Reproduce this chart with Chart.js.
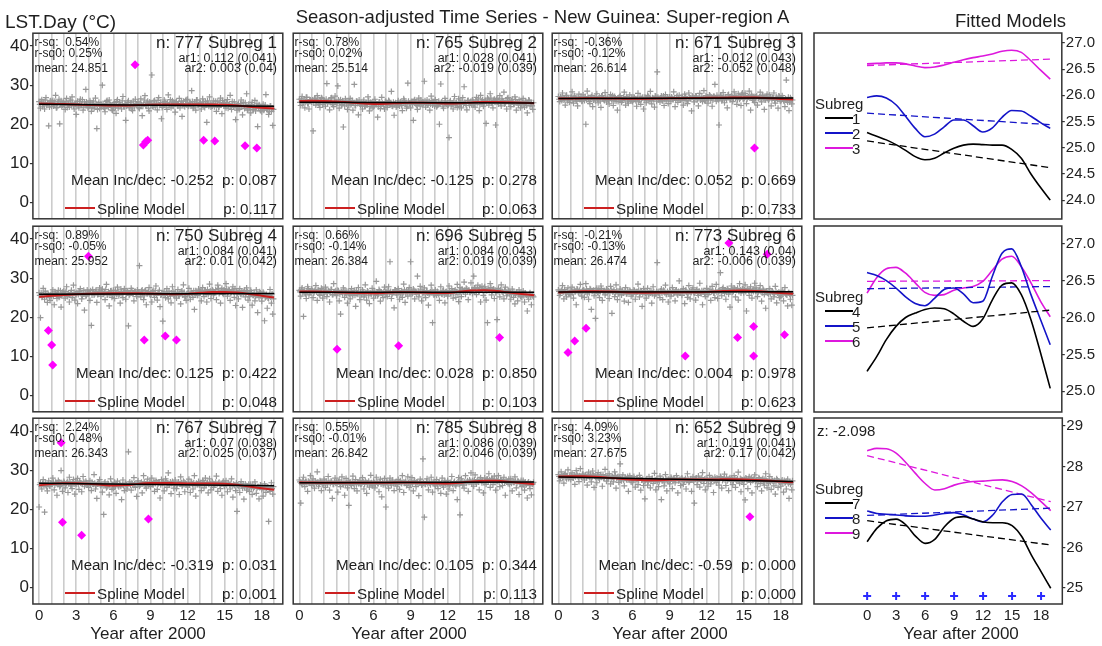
<!DOCTYPE html>
<html>
<head>
<meta charset="utf-8">
<script src="https://cdn.jsdelivr.net/npm/chart.js@4.4.1/dist/chart.umd.min.js"></script>
<style>
  html, body { margin: 0; padding: 0; background: #fff; }
  body { position: relative; width: 1102px; height: 646px; overflow: hidden;
         font-family: "Liberation Sans", Arial, Helvetica, sans-serif; color: #1e1e1e; }
  canvas { position: absolute; }
  .t { position: absolute; white-space: pre; line-height: 1; }
  .key { position: absolute; height: 2px; }
</style>
</head>
<body>
<script>
// ---------------------------------------------------------------
// Season-adjusted LST.Day series, 9 sub-regions, 2000-2019
// ---------------------------------------------------------------

// Observations: 9 samples per year on the main grid (years 0..18),
// plus a second set taken half a step later.
const SAMPLES_PER_YEAR = 9;

const lst1 = [
  25.8,24.1,26.3,25.0,23.9,26.8,25.4,19.6,25.9, 24.6,26.1,25.2,27.4,24.3,25.7,20.1,26.0,24.9,
  25.5,23.8,26.6,25.1,24.4,26.2,27.0,24.7,25.3, 22.5,25.9,24.2,26.4,25.0,23.6,25.7,28.9,24.8,
  24.5,26.0,23.3,25.4,24.1,26.7,18.9,25.2,24.0, 25.1,30.0,24.4,23.2,25.8,24.6,26.2,24.9,23.7,
  24.2,25.6,22.8,26.3,24.7,25.0,23.9,27.1,24.5, 21.0,24.9,26.0,24.3,25.5,23.5,24.8,26.4,25.2,
  25.7,24.0,26.5,22.2,25.1,27.3,24.6,25.9,23.4, 25.3,32.6,24.4,26.1,25.0,23.7,26.8,24.9,21.4,
  24.6,26.2,25.4,23.8,27.5,25.1,24.2,26.0,25.6, 23.1,25.8,24.7,26.6,25.2,22.0,25.9,24.5,26.3,
  26.4,24.8,25.5,28.6,24.1,25.7,23.6,26.2,25.0, 25.2,23.9,26.5,24.6,25.8,20.5,25.3,27.0,24.4,
  24.7,26.0,25.1,23.3,25.9,24.5,26.7,22.7,25.4, 25.6,24.2,26.3,25.0,27.4,23.8,24.9,25.7,21.2,
  23.6,25.3,24.1,26.2,22.4,24.8,25.5,27.8,23.9, 24.4,22.9,25.6,23.8,26.1,24.3,19.4,25.0,23.5,
  23.2,25.1,24.0,27.6,23.7,22.5,24.6,23.3,19.7
];
const lst1b = [
  25.1,25.9,24.6,25.5,26.2,24.9,25.3,24.4,26.0, 25.6,24.7,25.9,24.2,25.4,26.4,25.0,24.5,25.8,
  24.9,25.7,24.3,25.2,26.0,24.8,25.5,23.9,25.1, 25.3,24.6,25.8,24.9,26.3,24.4,25.1,25.7,24.2,
  24.8,25.5,24.2,25.9,24.6,25.2,23.8,25.6,24.9, 24.5,25.3,24.0,25.0,26.1,24.3,25.4,24.7,23.5,
  25.2,24.4,25.8,24.1,25.5,24.8,26.0,24.6,25.3, 24.7,25.6,24.2,25.1,23.9,25.9,24.5,25.2,24.9,
  24.3,25.4,25.0,24.6,26.2,24.8,25.5,24.1,25.7, 25.4,24.7,25.9,24.5,25.2,26.1,24.8,25.6,24.3,
  25.0,25.8,24.4,25.5,24.9,26.3,25.1,24.6,25.4, 25.6,24.8,25.3,24.2,25.9,25.1,24.7,26.0,24.9,
  24.6,25.5,25.0,25.8,24.4,25.3,26.2,24.8,25.4, 25.5,24.9,25.7,24.3,25.1,26.0,24.6,25.4,24.8,
  25.2,24.5,25.9,25.0,24.3,25.6,24.9,26.1,24.7, 24.8,25.5,24.1,25.2,24.6,25.8,24.4,25.0,24.2,
  24.9,23.8,25.3,24.5,25.6,24.0,24.8,23.6,25.1, 24.2,25.0,23.7,24.6,23.4,25.2,24.1,24.8,23.9,
  24.5,23.6,24.9,23.9,24.3,23.2,24.7,24.0,23.8
];
const lst2 = [
  26.4,24.8,27.1,25.6,24.2,26.9,25.3,23.9,26.2, 25.7,18.3,26.5,24.9,27.3,25.4,24.3,26.8,25.0,
  26.1,24.6,30.4,25.8,23.7,26.7,25.2,24.5,27.2, 25.5,29.8,24.1,26.3,25.0,19.3,24.7,26.0,23.8,
  24.9,26.6,25.3,23.6,30.2,24.8,25.9,22.4,25.2, 25.3,23.9,26.2,24.6,25.0,27.0,23.4,25.6,24.2,
  24.5,26.4,25.1,21.8,25.7,24.0,26.9,25.2,23.9, 25.8,24.3,26.1,25.0,28.4,24.6,22.3,25.5,24.8,
  26.0,24.7,25.6,23.5,26.5,25.2,24.1,30.5,25.4, 24.2,25.9,21.0,26.3,25.1,23.8,26.7,24.6,25.5,
  25.7,31.0,24.4,26.2,25.3,23.6,27.2,24.9,25.8, 26.3,24.5,25.0,20.0,30.3,25.6,24.1,26.6,25.2,
  24.8,16.6,26.0,25.1,23.9,27.1,25.4,24.3,26.5, 25.6,24.2,26.8,29.6,25.3,23.7,26.1,24.8,25.9,
  26.2,25.0,24.4,26.9,25.7,23.5,27.4,25.3,24.6, 25.8,20.2,26.7,24.9,27.8,25.5,24.2,26.4,19.8,
  26.6,25.2,27.3,24.7,26.0,28.2,25.4,23.9,26.8, 25.9,24.5,26.4,25.1,27.0,23.6,25.7,26.3,24.2,
  25.0,26.6,24.4,25.8,22.9,26.2,24.7,25.5,23.8
];
const lst2b = [
  25.6,26.5,25.2,26.1,25.8,26.9,25.4,26.3,25.9, 26.2,25.5,26.7,25.8,26.4,25.1,26.0,26.6,25.7,
  25.9,26.4,25.3,26.1,25.6,26.8,25.0,26.2,25.7, 25.4,26.2,25.8,24.9,26.0,25.5,26.5,25.2,25.9,
  25.7,25.0,26.1,25.4,24.8,25.9,25.3,26.2,24.9, 25.2,25.8,24.7,25.5,25.0,26.0,24.5,25.3,25.7,
  24.8,25.6,25.1,24.5,25.7,24.9,25.4,24.6,25.8, 25.4,24.9,25.8,25.1,24.7,25.6,25.2,24.4,25.5,
  25.0,25.7,24.8,25.4,26.1,25.2,24.6,25.9,25.3, 25.6,25.1,26.0,25.3,24.8,25.9,25.5,26.2,25.0,
  25.3,26.0,25.5,24.9,25.8,25.2,26.1,25.6,24.7, 25.5,24.8,25.9,25.2,25.6,24.6,25.4,26.0,25.1,
  25.0,25.6,24.7,25.3,25.9,24.9,25.5,25.2,24.5, 25.4,25.9,25.1,25.6,24.8,26.0,25.3,25.7,25.0,
  25.8,25.3,26.2,25.5,26.5,25.0,25.9,26.3,25.4, 26.0,25.5,26.4,25.8,26.7,25.3,26.1,25.6,26.3,
  25.7,26.2,25.4,26.5,25.9,25.2,26.0,26.6,25.5, 25.4,26.0,25.7,25.1,26.3,25.6,24.9,25.8,25.3,
  25.6,25.0,25.9,24.8,25.4,26.1,25.2,24.7,25.5
];
const lst3 = [
  27.1,25.8,26.9,28.0,26.2,24.9,27.4,26.5,25.6, 26.8,28.3,25.4,27.2,26.0,24.7,27.7,26.4,25.9,
  27.5,26.1,20.0,28.5,26.7,25.3,27.0,24.5,26.3, 26.0,27.8,25.5,26.9,24.3,27.3,26.4,28.1,25.7,
  26.6,25.2,27.6,26.1,24.8,27.1,25.9,23.6,26.8, 27.3,25.6,26.2,28.2,24.9,26.7,25.4,27.5,26.0,
  25.8,27.0,26.4,24.6,27.9,26.2,25.1,26.8,23.9, 26.9,25.5,27.4,26.0,28.4,25.2,26.6,24.4,27.1,
  33.4,26.3,25.7,27.2,26.0,24.8,27.6,26.5,25.3, 27.0,25.9,26.6,28.3,24.5,26.9,25.6,27.4,26.2,
  26.4,24.9,27.7,26.1,25.3,28.0,26.7,23.4,26.9, 25.7,27.2,26.3,24.7,27.9,26.5,25.8,28.6,26.0,
  26.8,25.4,27.5,26.2,24.6,27.1,30.2,25.9,26.6, 19.8,27.4,26.0,28.1,25.5,26.9,24.2,27.6,26.3,
  27.2,25.8,28.3,26.7,25.1,27.8,26.4,24.8,28.0, 26.5,27.9,25.3,26.9,28.5,23.6,27.3,26.1,25.6,
  27.0,24.9,26.6,28.2,25.7,27.4,23.8,26.3,27.7, 26.2,27.5,24.7,26.8,28.0,25.4,26.9,24.1,27.1,
  25.9,27.3,26.1,24.5,31.3,25.6,23.5,26.8,25.2
];
const lst3b = [
  26.4,27.0,26.1,26.8,26.5,27.3,26.0,26.7,26.3, 26.9,26.2,27.2,26.6,25.9,26.8,26.4,27.1,26.0,
  26.5,27.1,26.3,26.9,25.8,26.6,27.4,26.2,26.8, 27.0,26.4,26.7,25.9,27.2,26.5,26.1,26.9,26.6,
  26.2,26.9,26.5,27.3,26.0,26.7,26.4,25.8,27.0, 26.7,26.1,26.9,26.4,27.1,25.9,26.6,26.3,26.8,
  26.3,26.8,26.0,26.6,25.7,27.0,26.4,26.9,26.2, 26.6,26.2,27.1,26.5,26.0,26.8,26.3,27.2,25.9,
  26.9,26.4,26.7,26.1,27.2,26.5,26.0,26.8,26.6, 26.5,27.0,26.3,26.8,26.1,27.3,26.6,26.2,26.9,
  26.8,26.3,27.1,26.6,26.0,26.9,26.5,27.2,26.4, 26.6,27.2,26.4,26.9,26.2,27.0,26.7,26.1,27.3,
  27.0,26.5,27.3,26.8,26.2,27.1,26.6,27.4,26.3, 26.7,27.2,26.4,27.0,26.8,26.3,27.5,26.9,26.5,
  27.1,26.6,27.4,26.9,26.3,27.2,26.8,27.6,26.5, 26.8,27.3,26.5,27.0,26.7,27.5,26.4,27.1,26.9,
  27.2,26.7,27.0,26.4,27.4,26.8,26.2,27.1,26.6, 26.5,27.0,26.3,26.8,26.1,26.9,26.4,27.2,26.0,
  26.3,26.8,25.9,26.5,26.1,26.9,25.7,26.4,26.2
];
const lst4 = [
  26.3,19.9,25.1,27.4,24.6,26.0,23.8,25.7,24.3, 25.5,27.0,23.2,26.1,24.8,26.9,25.3,22.6,26.4,
  26.7,24.9,27.8,25.6,23.9,26.3,25.0,28.2,24.4, 25.8,23.5,26.5,27.3,24.7,26.0,21.8,25.4,27.0,
  26.2,24.3,17.9,27.1,25.7,26.6,23.8,25.9,27.5, 25.4,27.2,26.0,24.5,28.4,25.8,22.9,26.7,25.1,
  26.9,24.8,26.2,27.7,25.5,23.6,26.5,25.0,27.3, 24.6,26.8,17.8,25.9,27.4,26.1,24.2,26.6,25.3,
  26.4,33.2,25.2,27.0,24.5,26.8,23.2,26.1,27.6, 25.7,23.9,26.9,25.1,28.0,24.4,26.3,22.7,25.8,
  19.0,26.5,25.0,27.3,24.7,26.0,23.7,27.8,25.6, 26.2,24.9,27.1,25.5,23.4,26.7,28.3,25.2,24.3,
  25.9,27.4,24.6,26.3,25.1,22.0,26.8,25.6,27.2, 26.5,24.2,27.6,25.3,26.9,23.9,25.8,28.5,24.8,
  27.0,25.7,26.4,24.5,28.2,26.1,23.6,27.4,25.9, 26.7,28.6,25.4,27.1,24.3,26.5,27.8,25.1,23.0,
  26.0,24.7,27.3,25.8,22.5,26.6,25.2,27.5,24.4, 25.3,26.9,23.1,25.6,24.2,27.0,21.2,25.0,26.2,
  24.1,26.4,19.1,25.2,22.3,24.8,27.1,23.6,20.8
];
const lst4b = [
  25.6,26.3,25.2,25.9,26.7,25.4,26.1,25.0,25.8, 26.0,25.4,26.5,25.7,26.2,25.1,26.8,25.5,26.3,
  25.9,26.6,25.3,26.2,25.7,26.9,25.5,26.4,26.0, 26.3,25.8,26.7,26.1,25.5,26.9,26.2,25.6,26.5,
  26.1,26.8,25.7,26.4,26.0,27.0,25.8,26.5,26.2, 26.6,25.9,26.3,27.1,25.7,26.5,26.0,26.8,25.6,
  26.2,26.9,25.8,26.5,26.1,27.2,25.9,26.4,26.7, 26.0,26.6,25.6,26.3,26.9,25.9,26.5,26.1,27.0,
  26.4,25.8,26.7,26.2,25.5,26.9,26.1,26.6,25.9, 25.9,26.5,26.0,26.8,25.6,26.3,26.9,25.7,26.2,
  26.1,25.6,26.4,25.9,26.7,25.4,26.2,26.6,25.8, 25.8,26.3,25.5,26.1,26.6,25.7,26.4,25.3,26.0,
  26.2,25.7,26.5,26.0,26.8,25.9,26.3,25.6,26.6, 26.5,26.9,26.2,26.7,26.0,27.1,26.4,26.8,26.3,
  26.8,26.3,27.1,26.6,27.3,26.4,26.9,26.2,27.0, 26.7,27.2,26.4,26.9,26.1,27.0,26.5,27.3,26.6,
  26.3,26.8,26.0,26.6,25.9,26.9,26.2,26.5,25.8, 25.9,26.4,25.6,26.2,25.3,26.0,25.7,26.5,25.4,
  25.5,26.1,25.0,25.8,24.9,25.6,25.2,26.0,24.7
];
const lst5 = [
  26.9,25.4,27.5,20.2,26.1,24.8,27.8,25.7,26.4, 27.2,25.0,26.6,28.1,24.3,26.9,25.6,27.4,24.9,
  26.0,27.7,25.3,26.8,23.9,27.1,25.8,28.6,26.3, 25.5,26.9,24.2,20.8,26.4,27.5,25.1,26.7,23.6,
  26.2,24.7,27.3,25.6,26.9,22.8,25.9,27.6,24.5, 25.8,27.0,25.2,28.3,24.4,26.5,23.5,26.1,27.4,
  24.9,26.6,29.2,25.5,27.1,24.1,26.3,25.0,27.7, 26.5,25.3,27.8,34.2,24.8,26.2,22.4,27.0,25.7,
  27.3,24.6,26.0,25.1,28.5,23.8,26.7,25.4,27.6, 34.2,25.9,27.2,24.7,26.5,30.5,25.2,27.9,24.2,
  26.3,27.5,25.0,26.8,23.1,26.1,28.2,18.6,25.7, 27.0,25.6,26.4,24.3,27.8,25.9,26.9,23.7,26.6,
  25.4,28.0,26.2,27.3,24.9,26.7,25.1,28.4,24.0, 27.6,25.3,26.8,29.0,25.9,27.2,24.5,26.4,28.8,
  26.1,30.5,27.5,25.8,28.2,26.6,23.9,27.9,25.6, 27.8,24.4,18.6,26.9,28.6,25.7,27.1,24.8,26.3,
  19.4,27.4,25.2,28.3,26.5,24.7,27.7,25.5,26.9, 26.0,24.6,27.2,25.1,23.4,26.4,24.2,27.0,25.3,
  25.2,26.7,23.9,25.8,21.6,24.6,26.3,23.2,25.5
];
const lst5b = [
  26.5,27.1,26.3,26.9,26.0,26.7,27.3,26.4,26.8, 26.8,26.2,27.0,26.5,26.9,25.9,26.6,27.2,26.3,
  26.4,26.9,26.1,26.7,26.3,27.1,25.8,26.5,26.8, 26.2,26.7,25.9,26.5,26.0,26.9,26.3,25.7,26.6,
  26.0,26.6,25.8,26.3,25.6,26.8,26.1,25.9,26.4, 25.9,26.5,25.7,26.2,26.7,25.5,26.3,26.0,26.6,
  26.1,25.6,26.4,25.9,26.8,26.2,25.8,26.5,26.0, 26.3,26.9,26.0,26.6,25.9,26.4,27.0,26.2,26.7,
  26.5,26.1,26.8,26.3,27.0,26.0,26.6,26.9,26.2, 26.6,26.2,26.9,26.4,25.9,26.7,26.1,27.0,26.3,
  26.4,26.0,26.7,26.2,25.8,26.5,26.9,26.1,25.9, 26.1,26.6,25.8,26.3,26.0,26.8,25.7,26.4,26.2,
  26.3,26.8,26.0,26.6,26.2,27.0,26.5,25.9,26.7, 26.7,27.2,26.5,26.9,27.4,26.6,27.0,26.4,27.1,
  27.0,27.5,26.8,27.3,26.7,27.6,27.1,26.9,27.4, 27.1,26.8,27.4,26.9,27.6,26.7,27.2,27.0,26.6,
  26.8,26.4,27.0,26.6,26.2,26.9,26.5,26.1,26.7, 26.3,25.9,26.6,26.1,25.7,26.4,25.8,26.2,25.6,
  25.9,25.5,26.2,25.7,25.3,25.9,25.4,25.8,25.2
];
const lst6 = [
  27.0,25.6,26.8,28.1,24.7,26.3,25.2,27.5,26.0, 25.8,27.7,24.9,26.5,23.2,27.1,26.2,28.4,25.4,
  26.9,25.1,28.6,26.0,24.6,27.3,22.0,26.7,25.5, 19.7,27.4,26.1,25.0,28.0,24.3,26.8,25.7,27.2,
  26.4,24.8,27.9,21.0,26.6,25.3,28.3,24.5,26.0, 27.2,25.7,26.3,24.1,27.6,26.0,23.8,26.9,25.4,
  25.9,27.0,24.6,26.5,28.5,25.2,26.8,22.8,27.3, 26.6,24.9,27.4,25.8,26.2,23.6,27.8,25.5,26.1,
  34.0,26.3,25.0,27.2,24.5,26.7,28.2,25.9,23.9, 26.8,25.4,27.6,26.1,24.2,27.0,25.7,29.3,26.4,
  25.6,27.3,23.5,26.9,25.1,28.1,24.7,26.5,27.5, 26.2,24.4,27.1,25.6,28.7,26.0,23.2,26.8,25.3,
  27.4,25.8,26.5,24.3,27.9,26.3,25.0,28.4,24.8, 26.7,31.4,25.5,27.6,26.1,24.6,27.3,25.9,22.6,
  28.0,26.4,27.5,25.2,26.9,24.4,28.6,26.2,27.2, 26.3,28.3,21.6,27.0,25.6,27.8,24.9,26.6,28.7,
  27.5,25.3,26.7,28.1,24.1,27.2,25.8,22.3,26.4, 26.0,27.3,24.7,26.5,25.2,27.9,23.7,26.2,25.0,
  25.4,26.9,24.2,27.6,25.8,22.9,26.3,24.6,23.1
];
const lst6b = [
  26.6,26.1,26.9,26.4,27.1,26.2,26.7,26.0,26.5, 26.8,26.3,27.0,26.6,27.2,26.4,26.9,26.2,26.7,
  27.0,26.5,27.2,26.7,26.3,27.1,26.6,26.9,26.4, 26.9,26.4,27.1,26.6,27.3,26.5,26.8,26.2,27.0,
  26.7,26.2,26.9,26.5,27.0,26.3,26.8,26.1,26.6, 26.5,26.9,26.2,26.7,26.0,26.8,26.4,26.6,26.1,
  26.3,26.8,26.0,26.5,26.9,26.2,26.6,25.9,26.4, 26.2,26.7,25.9,26.4,26.8,26.1,26.5,26.0,26.6,
  26.4,26.0,26.7,26.2,26.9,26.3,25.9,26.6,26.1, 26.5,26.1,26.8,26.3,26.9,26.0,26.6,26.4,26.7,
  26.6,26.2,26.9,26.4,26.0,26.7,26.3,27.0,26.5, 26.4,26.9,26.1,26.7,26.3,26.8,26.5,26.0,26.6,
  26.7,26.3,27.0,26.5,26.8,26.2,26.9,26.4,26.6, 26.9,26.5,27.2,26.7,27.0,26.4,27.1,26.6,26.8,
  27.1,26.7,27.3,26.9,27.4,26.6,27.0,26.8,27.2, 27.0,26.6,27.3,26.8,27.1,26.5,26.9,27.2,26.7,
  26.8,26.4,27.0,26.6,26.3,26.9,26.5,26.7,26.2, 26.5,26.1,26.7,26.3,25.9,26.6,26.2,26.4,26.0,
  26.2,25.8,26.4,26.0,25.7,26.3,25.9,26.1,25.6
];
const lst7 = [
  20.6,26.8,25.2,27.6,19.3,26.1,24.7,27.3,25.9, 26.5,28.0,25.0,26.9,23.6,27.4,25.8,29.9,24.6,
  27.1,25.5,26.7,24.3,28.2,26.0,25.3,27.6,23.9, 26.4,27.9,25.1,26.8,24.5,28.4,25.9,27.2,26.2,
  25.6,27.3,24.8,26.5,28.9,25.2,22.8,26.9,27.6, 26.0,24.4,18.7,27.0,25.5,26.6,23.7,27.8,25.1,
  25.4,26.9,24.1,27.2,25.8,26.3,22.5,27.5,24.8, 26.6,25.2,34.7,27.0,24.9,26.4,28.1,25.6,23.3,
  27.3,25.9,26.7,24.2,28.6,26.1,25.4,27.7,26.5, 25.8,28.0,26.3,24.6,27.4,25.1,26.9,22.9,27.6,
  26.8,24.7,27.8,25.6,29.3,26.2,24.0,27.1,25.4, 27.5,25.3,26.6,23.8,28.3,25.9,27.2,24.5,26.4,
  25.7,27.7,24.3,26.9,25.2,28.6,23.4,26.3,27.1, 26.2,24.8,27.4,25.5,28.0,26.7,24.2,27.8,25.0,
  27.0,25.6,26.3,28.5,24.6,26.9,25.3,23.6,27.2, 25.9,27.3,24.5,26.6,25.2,27.8,23.1,26.1,24.8,
  19.5,26.0,24.3,27.1,25.4,22.6,26.5,24.9,25.7, 24.6,26.4,23.8,25.3,27.0,24.1,25.8,22.7,26.2,
  25.1,23.4,26.5,24.3,25.7,16.9,24.6,26.8,23.9
];
const lst7b = [
  26.3,25.9,26.6,26.1,26.8,25.8,26.4,26.0,26.7, 26.5,26.9,26.2,26.7,26.4,27.0,26.1,26.8,26.6,
  26.8,26.4,27.1,26.6,26.9,26.3,27.0,26.5,26.7, 26.9,26.5,27.2,26.7,26.4,27.0,26.6,26.8,26.3,
  26.6,26.2,26.9,26.4,26.7,26.0,26.5,26.8,26.3, 26.4,26.0,26.7,26.2,25.8,26.5,26.1,26.6,26.3,
  26.2,25.8,26.5,26.0,26.6,25.9,26.3,26.1,26.4, 26.3,26.0,26.6,26.2,26.8,26.1,26.5,26.4,26.7,
  26.6,26.2,26.9,26.5,27.0,26.4,26.7,26.3,26.8, 26.8,26.4,27.1,26.6,27.0,26.5,26.9,26.3,26.7,
  26.9,26.5,27.2,26.7,26.3,27.0,26.6,26.8,26.4, 26.7,26.3,27.0,26.5,26.8,26.2,26.9,26.6,26.4,
  26.6,26.2,26.9,26.4,26.8,26.1,26.7,26.5,26.3, 26.7,26.3,26.9,26.5,26.2,26.8,26.4,26.6,26.1,
  26.6,26.2,26.9,26.4,26.7,26.1,26.5,26.8,26.3, 26.5,26.1,26.8,26.3,26.6,26.0,26.4,26.2,26.7,
  26.2,25.8,26.5,26.0,26.3,25.7,26.1,25.9,26.4, 25.9,25.5,26.2,25.7,26.0,25.4,25.8,25.6,26.1,
  25.6,25.2,25.9,25.4,25.7,25.1,25.5,25.3,25.8
];
const lst8 = [
  27.5,21.6,26.3,28.2,25.8,27.1,24.6,26.7,28.6, 26.2,27.8,25.4,26.9,29.6,25.9,27.3,24.8,26.5,
  27.7,25.6,26.8,28.4,24.9,27.2,22.8,26.4,28.0, 26.9,24.4,27.5,25.8,28.3,26.3,23.6,27.9,25.5,
  21.0,27.0,26.1,28.5,25.3,27.6,24.7,26.6,27.4, 26.4,28.1,25.2,27.3,24.1,26.8,25.7,28.7,26.0,
  27.2,25.5,28.2,26.6,24.5,27.7,23.2,26.3,27.9, 20.6,26.9,25.4,28.0,26.2,27.5,24.8,26.7,25.9,
  27.6,25.1,26.8,28.6,24.3,27.0,26.1,28.3,25.6, 26.5,28.1,24.7,27.3,25.8,26.9,23.5,27.7,26.2,
  32.9,18.0,26.4,27.8,25.0,26.7,28.2,24.4,27.1, 26.0,27.6,25.3,26.8,24.1,28.0,25.7,27.3,23.9,
  27.4,25.2,26.6,28.4,24.8,27.1,26.0,22.5,28.1, 18.6,27.8,26.2,25.4,28.6,26.9,24.6,27.5,29.3,
  27.3,25.9,28.8,26.5,27.6,25.0,28.1,26.8,24.2, 28.0,26.4,27.7,29.1,25.6,27.9,26.3,28.5,24.9,
  27.2,28.6,25.8,27.5,26.1,28.2,23.6,27.0,26.6, 26.4,27.8,24.7,26.9,28.3,25.5,27.2,23.8,26.7,
  25.8,27.4,24.9,26.2,22.9,27.0,25.3,23.7,26.5
];
const lst8b = [
  27.0,26.6,27.3,26.8,27.1,26.5,27.2,26.9,26.7, 26.9,26.5,27.2,26.7,27.0,26.4,27.1,26.8,26.6,
  26.8,27.2,26.5,26.9,26.6,27.1,26.4,27.0,26.7, 26.7,27.1,26.4,26.9,26.6,27.0,26.3,26.8,27.2,
  26.8,26.4,27.1,26.6,26.9,26.3,27.0,26.7,26.5, 26.7,27.0,26.4,26.9,26.5,27.2,26.6,26.8,26.3,
  26.8,26.4,27.1,26.6,27.0,26.5,26.9,26.7,26.3, 26.9,26.5,27.2,26.7,27.0,26.6,26.8,27.1,26.4,
  26.9,27.3,26.6,27.0,26.7,27.2,26.5,26.8,27.1, 26.9,26.5,27.2,26.7,27.0,26.6,26.8,27.1,26.4,
  26.8,26.4,27.1,26.6,26.9,26.3,27.0,26.7,26.5, 26.7,26.3,27.0,26.5,26.8,26.2,26.9,26.6,26.4,
  26.6,26.2,26.9,26.5,26.8,26.3,26.7,27.0,26.4, 26.8,27.2,26.6,27.0,26.7,27.3,26.9,27.1,26.5,
  27.1,27.5,26.9,27.3,27.0,27.6,27.2,27.4,26.8, 27.3,27.7,27.0,27.5,27.2,27.8,27.4,27.1,27.6,
  27.3,27.0,27.6,27.2,27.5,26.9,27.4,27.1,27.7, 27.0,26.7,27.3,26.9,27.2,26.6,27.1,26.8,27.4,
  26.7,26.3,27.0,26.5,26.8,26.2,26.6,26.4,26.9
];
const lst9 = [
  28.9,27.3,29.6,28.1,26.7,29.2,27.8,30.1,28.4, 27.6,29.3,28.0,26.4,29.9,28.6,27.1,30.4,28.2,
  29.0,27.5,28.7,26.2,29.5,28.1,27.0,29.8,25.6, 28.3,26.8,29.4,27.7,28.9,25.9,28.0,30.2,27.2,
  27.9,29.1,26.5,28.4,27.0,29.6,25.4,28.2,26.9, 31.6,27.3,28.8,26.0,28.1,27.5,24.6,28.6,27.0,
  26.8,28.4,25.7,27.9,26.3,28.7,24.9,27.5,26.1, 22.7,27.6,26.2,28.3,25.5,27.8,26.6,29.2,25.0,
  27.1,25.8,28.5,22.5,27.4,26.0,28.9,24.7,27.7, 26.5,28.2,25.3,27.9,26.8,28.6,24.2,27.4,26.1,
  28.0,26.4,27.5,25.2,29.1,26.9,27.7,24.6,28.3, 21.6,27.8,26.3,28.5,25.7,27.2,29.4,26.6,25.0,
  27.4,25.9,28.7,26.5,27.9,24.3,28.2,26.8,27.6, 26.2,28.4,25.4,27.7,29.0,26.1,27.3,24.8,28.1,
  27.9,26.3,28.6,25.6,27.2,29.5,26.7,24.5,27.5, 26.4,22.4,27.8,25.3,28.3,26.9,24.2,27.6,28.8,
  27.3,25.8,28.1,26.6,24.7,27.9,26.2,29.1,25.5, 26.7,28.4,25.1,27.3,26.0,23.9,27.8,25.6,26.9,
  25.9,27.5,24.4,26.8,25.2,27.7,22.8,26.4,25.0
];
const lst9b = [
  28.4,28.0,28.7,28.2,28.9,28.1,28.5,27.9,28.6, 28.5,28.1,28.8,28.3,29.0,28.2,28.6,28.4,28.9,
  28.4,28.8,28.1,28.6,28.3,29.0,28.2,28.7,28.5, 28.3,28.7,28.0,28.5,28.2,28.9,28.1,28.6,28.4,
  28.1,28.5,27.8,28.3,28.0,28.7,27.9,28.4,28.2, 27.8,28.2,27.5,28.0,27.7,28.4,27.6,28.1,27.9,
  27.6,27.9,27.3,27.8,27.4,28.1,27.5,27.7,27.2, 27.4,27.8,27.1,27.6,27.3,27.9,27.2,27.5,27.7,
  27.5,27.1,27.8,27.3,27.6,27.0,27.7,27.4,27.2, 27.5,27.9,27.2,27.7,27.4,28.0,27.3,27.6,27.8,
  27.6,27.2,27.9,27.4,27.7,27.1,27.8,27.5,27.3, 27.6,28.0,27.3,27.8,27.5,28.1,27.4,27.7,27.9,
  27.6,27.2,27.9,27.5,27.8,27.3,27.7,28.0,27.4, 27.7,28.1,27.4,27.9,27.5,28.2,27.6,27.8,27.3,
  27.7,27.3,28.0,27.5,27.8,27.2,27.9,27.6,27.4, 27.6,28.0,27.3,27.8,27.5,28.1,27.4,27.7,27.2,
  27.5,27.1,27.8,27.3,27.6,27.0,27.7,27.4,27.2, 27.3,26.9,27.6,27.1,27.4,26.8,27.5,27.2,27.0,
  27.1,26.7,27.4,26.9,27.2,26.6,27.0,26.8,27.3
];

// Flagged outliers (magenta diamonds): year, value
const outX1 = [7.76, 8.43, 8.62, 8.78, 13.3, 14.2, 16.65, 17.6];
const outY1 = [35.2, 14.7, 15.5, 15.9, 15.9, 15.7, 14.5, 13.9];
const outX2 = [];
const outY2 = [];
const outX3 = [15.87];
const outY3 = [13.9];
const outX4 = [3.99, 0.75, 1.02, 1.10, 8.5, 10.2, 11.1];
const outY4 = [35.6, 16.6, 12.9, 7.8, 14.2, 15.2, 14.2];
const outX5 = [3.05, 8.03, 16.2];
const outY5 = [11.8, 12.7, 14.8];
const outX6 = [0.78, 1.32, 2.24, 10.27, 13.8, 14.5, 15.8, 15.8, 16.9, 18.3];
const outY6 = [11.0, 13.9, 17.2, 10.1, 39.0, 14.8, 17.6, 10.1, 36.1, 15.5];
const outX7 = [1.78, 1.89, 3.44, 8.84];
const outY7 = [37.0, 16.7, 13.4, 17.5];
const outX8 = [];
const outY8 = [];
const outX9 = [15.5];
const outY9 = [18.1];

// Fitted spline model per sub-region, evaluated at years 0..19
const splineYears = [0,1,2,3,4,5,6,7,8,9,10,11,12,13,14,15,16,17,18,19];
const spline1 = [25.29,25.22,25.15,25.06,24.95,24.83,24.77,24.80,24.90,24.99,25.05,25.07,25.06,25.05,25.05,24.97,24.80,24.50,24.24,24.00];
const spline2 = [25.96,25.99,25.95,25.82,25.60,25.37,25.21,25.26,25.40,25.53,25.53,25.42,25.30,25.38,25.58,25.71,25.70,25.60,25.48,25.37];
const spline3 = [26.60,26.61,26.62,26.62,26.60,26.56,26.53,26.54,26.58,26.63,26.68,26.72,26.75,26.79,26.84,26.86,26.82,26.66,26.48,26.31];
const spline4 = [25.27,25.47,25.70,25.88,26.00,26.06,26.11,26.13,26.12,26.05,25.95,25.88,25.98,26.24,26.44,26.47,26.31,25.97,25.52,25.04];
const spline5 = [26.61,26.57,26.50,26.40,26.28,26.19,26.16,26.26,26.38,26.40,26.32,26.20,26.22,26.56,26.87,26.93,26.69,26.31,25.97,25.63];
const spline6 = [26.33,26.54,26.66,26.68,26.60,26.47,26.34,26.30,26.31,26.37,26.40,26.42,26.49,26.64,26.79,26.83,26.69,26.47,26.22,26.01];
const spline7 = [26.14,26.47,26.66,26.70,26.56,26.28,26.10,26.20,26.51,26.72,26.76,26.70,26.63,26.61,26.61,26.54,26.27,25.81,25.40,24.99];
const spline8 = [26.90,26.84,26.82,26.80,26.78,26.77,26.77,26.80,26.84,26.86,26.80,26.70,26.63,26.80,27.13,27.31,27.32,27.05,26.72,26.43];
const spline9 = [28.39,28.45,28.44,28.33,28.10,27.83,27.58,27.42,27.45,27.54,27.60,27.63,27.64,27.66,27.67,27.63,27.52,27.35,27.13,26.91];

// Linear trend per sub-region: value at year 0 and year 19
const trendYears = [0, 19];
const trend1 = [25.13, 24.62];
const trend2 = [25.66, 25.44];
const trend3 = [26.57, 26.69];
const trend4 = [25.86, 26.10];
const trend5 = [26.39, 26.42];
const trend6 = [26.49, 26.50];
const trend7 = [26.66, 26.06];
const trend8 = [26.79, 26.97];
const trend9 = [28.27, 27.13];

// Per-panel statistics
const subregs   = [1, 2, 3, 4, 5, 6, 7, 8, 9];
const nObs      = [777, 765, 671, 750, 696, 773, 767, 785, 652];
const rSq       = ['0.54%', '0.78%', '-0.36%', '0.89%', '0.66%', '-0.21%', '2.24%', '0.55%', '4.09%'];
const rSq0      = ['0.25%', '0.02%', '-0.12%', '-0.05%', '-0.14%', '-0.13%', '0.48%', '-0.01%', '3.23%'];
const meanVals  = ['24.851', '25.514', '26.614', '25.952', '26.384', '26.474', '26.343', '26.842', '27.675'];
const ar1Vals   = ['0.112 (0.041)', '0.028 (0.041)', '-0.012 (0.043)', '0.084 (0.041)', '0.084 (0.043)', '0.143 (0.04)', '0.07 (0.038)', '0.086 (0.039)', '0.191 (0.041)'];
const ar2Vals   = ['0.003 (0.04)', '-0.019 (0.039)', '-0.052 (0.048)', '0.01 (0.042)', '0.019 (0.039)', '-0.006 (0.039)', '0.025 (0.037)', '0.046 (0.039)', '0.17 (0.042)'];
const meanInc   = ['-0.252', '-0.125', '0.052', '0.125', '0.028', '0.004', '-0.319', '0.105', '-0.59'];
const pMeanInc  = ['0.087', '0.278', '0.669', '0.422', '0.850', '0.978', '0.031', '0.344', '0.000'];
const pSpline   = ['0.117', '0.063', '0.733', '0.048', '0.103', '0.623', '0.001', '0.113', '0.000'];

// Fitted-model panels
const fitGroups = [[1, 2, 3], [4, 5, 6], [7, 8, 9]];
const fitYMin   = [23.64, 24.72, 24.60];
const fitYMax   = [27.19, 27.24, 29.20];
const fitYStep  = [0.5, 0.5, 1];
const zScore    = '-2.098';
const plusYears = [0, 3, 6, 9, 12, 15, 18];
const plusLevel = 24.8;

const xTicks    = [0, 3, 6, 9, 12, 15, 18];
const yTicks    = [0, 10, 20, 30, 40];

// ---------------------------------------------------------------
const LST = [lst1, lst2, lst3, lst4, lst5, lst6, lst7, lst8, lst9];
const LST_B = [lst1b, lst2b, lst3b, lst4b, lst5b, lst6b, lst7b, lst8b, lst9b];
const OUT_X = [outX1, outX2, outX3, outX4, outX5, outX6, outX7, outX8, outX9];
const OUT_Y = [outY1, outY2, outY3, outY4, outY5, outY6, outY7, outY8, outY9];
const SPLINES = [spline1, spline2, spline3, spline4, spline5, spline6, spline7, spline8, spline9];
const TRENDS = [trend1, trend2, trend3, trend4, trend5, trend6, trend7, trend8, trend9];
const GROUP_COLORS = ['#000000', '#1414c8', '#dd18dd'];
const OBS_GREY = '#989898';

// Page geometry (plot boxes)
const BOX_X = [33, 293, 552];
const BOX_Y = [33, 226, 418];
const BOX_W = 250, BOX_H = 186;
const FIT_X = 814, FIT_W = 248;
const PAGE_W = 1102;

Chart.defaults.font.family = "'Liberation Sans', Arial, Helvetica, sans-serif";
Chart.defaults.color = '#1e1e1e';

const framePlugin = {
  id: 'frame',
  afterDraw(chart) {
    const { ctx, chartArea: a } = chart;
    ctx.save();
    ctx.strokeStyle = '#333';
    ctx.lineWidth = 1.5;
    ctx.strokeRect(a.left, a.top, a.right - a.left, a.bottom - a.top);
    ctx.restore();
  }
};

function addCanvas(left, top, w, h) {
  const cv = document.createElement('canvas');
  cv.width = w; cv.height = h;
  cv.style.left = left + 'px'; cv.style.top = top + 'px';
  cv.style.width = w + 'px'; cv.style.height = h + 'px';
  document.body.appendChild(cv);
  return cv;
}

// Build the chart once on a scratch canvas to learn the axis margins,
// then rebuild it on a canvas sized so the plot area lands on the box.
function placeChart(bx, by, bw, bh, buildConfig) {
  const pw = bw + 120, ph = bh + 120;
  const probe = addCanvas(0, 0, pw, ph);
  const trial = new Chart(probe, buildConfig());
  const a = trial.chartArea;
  const mL = a.left, mT = a.top, mR = pw - a.right, mB = ph - a.bottom;
  trial.destroy();
  probe.remove();
  const left = Math.round(bx - mL), top = Math.round(by - mT);
  const w = Math.round(bx + bw + mR) - left;
  const h = Math.round(by + bh + mB) - top;
  return new Chart(addCanvas(left, top, w, h), buildConfig());
}

const labels = [];
function txt(s, x, yc, size, align, color) {
  labels.push({ s, x, yc, size, align, color });
}
function key(x1, x2, y, color) {
  labels.push({ key: true, x1, x2, y, color });
}
function flushLabels() {
  for (const l of labels) {
    const d = document.createElement('div');
    if (l.key) {
      d.className = 'key';
      d.style.left = l.x1 + 'px';
      d.style.width = (l.x2 - l.x1) + 'px';
      d.style.top = (l.y - 1) + 'px';
      d.style.background = l.color;
    } else {
      d.className = 't';
      d.textContent = l.s;
      d.style.fontSize = l.size + 'px';
      d.style.top = (l.yc - 0.5 * l.size) + 'px';
      if (l.color) d.style.color = l.color;
      if (l.align === 'right') d.style.right = (PAGE_W - l.x) + 'px';
      else if (l.align === 'center') { d.style.left = l.x + 'px'; d.style.transform = 'translateX(-50%)'; }
      else d.style.left = l.x + 'px';
    }
    document.body.appendChild(d);
  }
}

const baseOptions = () => ({
  responsive: false,
  maintainAspectRatio: false,
  animation: false,
  devicePixelRatio: 1,
  events: [],
  layout: { padding: 2 },
  plugins: { legend: { display: false }, tooltip: { enabled: false } },
  elements: { point: { hitRadius: 0 } }
});

// ---------------- time-series panels ----------------
function seriesPanel(k) {
  const c = k % 3, r = Math.floor(k / 3);
  const bx = BOX_X[c], by = BOX_Y[r];

  const obs = LST[k].map((v, i) => ({ x: i / SAMPLES_PER_YEAR, y: v }));
  const obsB = LST_B[k].map((v, i) => ({ x: (i + 0.5) / SAMPLES_PER_YEAR, y: v }));
  const outs = OUT_X[k].map((x, i) => ({ x, y: OUT_Y[k][i] }));
  const spl = splineYears.map((x, i) => ({ x, y: SPLINES[k][i] }));
  const trd = trendYears.map((x, i) => ({ x, y: TRENDS[k][i] }));

  const build = () => {
    const opts = baseOptions();
    opts.scales = {
      x: {
        type: 'linear', min: -0.5, max: 19.7,
        border: { display: false },
        grid: { color: '#cccccc', lineWidth: 1.6, drawTicks: r === 2, tickLength: 3, tickColor: 'rgba(0,0,0,0)' },
        ticks: {
          display: r === 2, stepSize: 1, includeBounds: false, autoSkip: false, maxRotation: 0,
          padding: 0, font: { size: 15 }, color: '#222',
          callback: v => (xTicks.includes(v) ? String(v) : '')
        }
      },
      y: {
        type: 'linear', min: -4.2, max: 43.3, display: c === 0,
        border: { display: false },
        grid: { drawOnChartArea: false, drawTicks: true, tickLength: 3, tickColor: '#333', lineWidth: 1.2 },
        ticks: {
          stepSize: 10, includeBounds: false, padding: 1, font: { size: 17 }, color: '#222',
          callback: v => (yTicks.includes(v) ? String(v) : '')
        }
      }
    };
    return {
      type: 'scatter',
      data: {
        datasets: [
          { data: outs, pointStyle: 'rectRot', pointRadius: 4.5, backgroundColor: '#ff00ff', borderColor: '#ff00ff', borderWidth: 0 },
          { data: trd, showLine: true, borderColor: '#000', borderWidth: 1.5, pointRadius: 0 },
          { data: spl, showLine: true, borderColor: '#cc2020', borderWidth: 2, pointRadius: 0, cubicInterpolationMode: 'monotone' },
          { data: obs, pointStyle: 'cross', pointRadius: 3, borderColor: OBS_GREY, borderWidth: 1.2 },
          { data: obsB, pointStyle: 'cross', pointRadius: 3, borderColor: OBS_GREY, borderWidth: 1.2 }
        ]
      },
      options: opts,
      plugins: [framePlugin]
    };
  };
  placeChart(bx, by, BOX_W, BOX_H, build);

  // annotations
  const L = bx + 1.5, R = bx + BOX_W - 6;
  txt('r-sq:  ' + rSq[k], L, by + 9, 12);
  txt('r-sq0: ' + rSq0[k], L, by + 19.5, 12);
  txt('mean: ' + meanVals[k], L, by + 35, 12);
  txt('n: ' + nObs[k] + ' Subreg ' + subregs[k], R, by + 9.5, 17, 'right');
  txt('ar1: ' + ar1Vals[k], R, by + 25.5, 12.5, 'right');
  txt('ar2: ' + ar2Vals[k], R, by + 35.5, 12.5, 'right');
  txt('Mean Inc/dec: ' + meanInc[k] + '  p: ' + pMeanInc[k], R, by + 146.5, 15.2, 'right');
  key(bx + 32, bx + 62, by + 174.5, '#cc2020');
  txt('Spline Model', bx + 64, by + 175.5, 15.2);
  txt('p: ' + pSpline[k], R, by + 175.5, 15.2, 'right');
}

// ---------------- fitted model panels ----------------
function fittedPanel(g) {
  const by = BOX_Y[g];
  const step = fitYStep[g];

  const build = () => {
    const datasets = [];
    if (g === 2) {
      datasets.push({
        data: plusYears.map(x => ({ x, y: plusLevel })),
        pointStyle: 'cross', pointRadius: 4, borderColor: '#2a2aff', borderWidth: 2
      });
    }
    fitGroups[g].forEach((s, j) => {
      const col = GROUP_COLORS[j];
      datasets.push({
        data: splineYears.map((x, i) => ({ x, y: SPLINES[s - 1][i] })),
        showLine: true, borderColor: col, borderWidth: 1.6, pointRadius: 0, cubicInterpolationMode: 'monotone'
      });
      datasets.push({
        data: trendYears.map((x, i) => ({ x, y: TRENDS[s - 1][i] })),
        showLine: true, borderColor: col, borderWidth: 1.3, borderDash: [7, 4], pointRadius: 0
      });
    });
    const opts = baseOptions();
    opts.scales = {
      x: {
        type: 'linear', min: -5.5, max: 20.2,
        border: { display: false },
        grid: { drawOnChartArea: false, drawTicks: g === 2, tickLength: 3, tickColor: 'rgba(0,0,0,0)' },
        ticks: {
          display: g === 2, stepSize: 3, includeBounds: false, autoSkip: false, maxRotation: 0,
          padding: 0, font: { size: 15 }, color: '#222',
          callback: v => (xTicks.includes(v) ? String(v) : '')
        }
      },
      y: {
        type: 'linear', position: 'right', min: fitYMin[g], max: fitYMax[g],
        border: { display: false },
        grid: { drawOnChartArea: false, drawTicks: true, tickLength: 3, tickColor: '#333', lineWidth: 1.2 },
        ticks: {
          stepSize: step, includeBounds: false, padding: 1, font: { size: 15 }, color: '#222',
          callback: v => (step < 1 ? v.toFixed(1) : String(v))
        }
      }
    };
    return { type: 'scatter', data: { datasets }, options: opts, plugins: [framePlugin] };
  };
  placeChart(FIT_X, by, FIT_W, BOX_H, build);

  // legend
  txt('Subreg', FIT_X + 1, by + 70, 15);
  const keyY = [85, 100, 114.5];
  fitGroups[g].forEach((s, j) => {
    key(FIT_X + 11, FIT_X + 39, by + keyY[j], GROUP_COLORS[j]);
    txt(String(s), FIT_X + 38, by + keyY[j] + 0.5, 15);
  });
  if (g === 2) txt('z: ' + zScore, FIT_X + 3, by + 12, 15);
}

for (let k = 0; k < 9; k++) seriesPanel(k);
for (let g = 0; g < 3; g++) fittedPanel(g);

// titles
txt('LST.Day (\u00B0C)', 5, 21, 19);
txt('Season-adjusted Time Series - New Guinea: Super-region A', 542.5, 17, 18.5, 'center');
txt('Fitted Models', 1066, 21, 18.5, 'right');
const xTitleCentres = [148, 409, 670, 961];
xTitleCentres.forEach(x => txt('Year after 2000', x, 633, 17, 'center'));

flushLabels();
</script>
</body>
</html>
